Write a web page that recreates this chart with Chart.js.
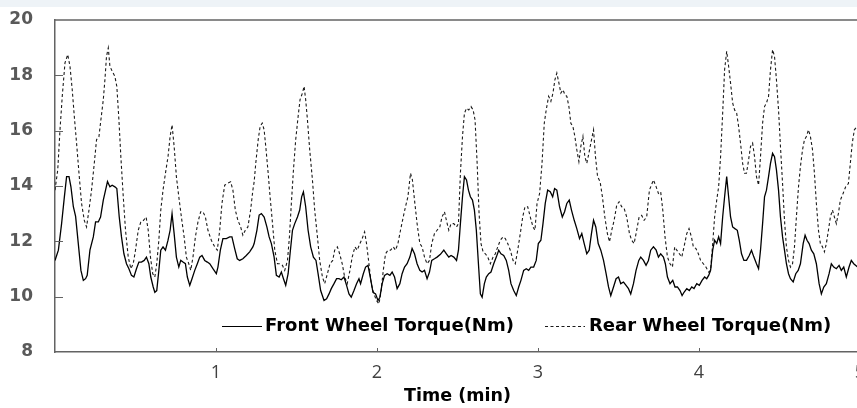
<!DOCTYPE html>
<html>
<head>
<meta charset="utf-8">
<script src="https://cdn.jsdelivr.net/npm/chart.js@4.4.1/dist/chart.umd.min.js"></script>
<style>
  html, body { margin: 0; padding: 0; background: #fff; }
  body { width: 857px; height: 408px; overflow: hidden; position: relative; }
  #band { position: absolute; left: 0; top: 0; width: 857px; height: 7px; background: #eef3f7; }
  #wrap { position: absolute; left: 0; top: 0; width: 880px; height: 408px; }
</style>
</head>
<body>
<div id="band"></div>
<div id="wrap"><canvas id="torqueChart" width="880" height="408"></canvas></div>
<script>
// values (time in min, torque in Nm)
var frontTime = [
  0, .021, .041, .058, .072, .087, .099, .114, .128, .145, .161, .176, .190, .200, .217, .238, .252, .269, .283, .300,
  .314, .326, .341, .355, .372, .384, .399, .413, .428, .444, .459, .475, .490, .506, .521, .537, .554, .568, .583, .595,
  .610, .620, .632, .645, .657, .671, .686, .702, .715, .727, .740, .754, .769, .781, .795, .810, .822, .837, .851, .868,
  .884, .899, .913, .930, .946, .961, .981, 1.002, 1.012, 1.027, 1.043, 1.064, 1.085, 1.099, 1.116, 1.132, 1.147, 1.167, 1.188, 1.209,
  1.229,
  1.237, 1.254, 1.268, 1.282, 1.299, 1.316, 1.330, 1.344, 1.361, 1.375, 1.392, 1.406, 1.419, 1.433, 1.448, 1.460, 1.475, 1.489, 1.506, 1.520,
  1.532, 1.543, 1.557, 1.572, 1.588, 1.605, 1.621, 1.634, 1.650, 1.671, 1.687, 1.702, 1.716, 1.733, 1.749, 1.764, 1.778, 1.795, 1.811, 1.826,
  1.840, 1.857, 1.873, 1.888, 1.898, 1.915, 1.929, 1.944, 1.960, 1.975, 1.991, 2.006, 2.018, 2.032, 2.047, 2.063, 2.080, 2.094, 2.109, 2.125,
  2.142, 2.156, 2.171, 2.187, 2.204, 2.218, 2.233, 2.249, 2.266, 2.280, 2.295, 2.311, 2.326, 2.340, 2.357, 2.373, 2.394, 2.415, 2.431, 2.446,
  2.460,
  2.477, 2.494, 2.506, 2.518, 2.531, 2.543, 2.556, 2.568, 2.580, 2.593, 2.605, 2.617, 2.630, 2.642, 2.653, 2.667, 2.679, 2.694, 2.708, 2.725,
  2.741, 2.756, 2.770, 2.787, 2.803, 2.818, 2.832, 2.849, 2.865, 2.880, 2.894, 2.911, 2.927, 2.942, 2.956, 2.973, 2.989, 3.002, 3.018, 3.031,
  3.045, 3.060, 3.076, 3.091, 3.103, 3.117, 3.134, 3.151, 3.165, 3.179, 3.194, 3.208, 3.225, 3.241, 3.258, 3.272, 3.287, 3.303, 3.318, 3.332,
  3.345, 3.359, 3.374, 3.390, 3.407, 3.423, 3.438, 3.452, 3.469, 3.485, 3.500, 3.514, 3.531, 3.547, 3.562, 3.576, 3.593, 3.609, 3.626, 3.638,
  3.655, 3.671, 3.686, 3.700,
  3.717, 3.734, 3.748, 3.762, 3.779, 3.791, 3.804, 3.820, 3.837, 3.851, 3.866, 3.882, 3.895, 3.907, 3.924, 3.940, 3.955, 3.969, 3.986, 4.002,
  4.019, 4.035, 4.048, 4.060, 4.072, 4.085, 4.097, 4.110, 4.122, 4.134, 4.147, 4.159, 4.172, 4.184, 4.196, 4.209, 4.223, 4.238, 4.250, 4.264,
  4.279, 4.295, 4.312, 4.326, 4.341, 4.357, 4.370, 4.382, 4.395, 4.407, 4.419, 4.432, 4.444, 4.457, 4.469, 4.481, 4.494, 4.506, 4.519, 4.531,
  4.543, 4.556, 4.568, 4.585, 4.601, 4.616, 4.630, 4.647, 4.659, 4.671, 4.684, 4.698, 4.713, 4.729, 4.746, 4.760, 4.775, 4.791, 4.808, 4.822,
  4.837, 4.853, 4.870, 4.884, 4.899, 4.915, 4.932, 4.946, 4.961, 5.0
];
var frontTorque = [
  11.31, 11.68, 12.64, 13.6, 14.34, 14.34, 13.97, 13.25, 12.9, 11.9, 10.95, 10.59, 10.65, 10.77, 11.68, 12.16, 12.7, 12.7, 12.88, 13.49,
  13.85, 14.16, 13.97, 14.03, 13.97, 13.91, 12.88, 12.16, 11.55, 11.19, 11.01, 10.77, 10.71, 11.01, 11.25, 11.25, 11.31, 11.43, 11.19, 10.71,
  10.35, 10.16, 10.22, 10.95, 11.68, 11.8, 11.68, 12.04, 12.4, 13.0, 12.28, 11.43, 11.07, 11.31, 11.25, 11.19, 10.71, 10.41, 10.65, 10.95,
  11.19, 11.43, 11.49, 11.31, 11.25, 11.19, 11.01, 10.83, 11.07, 11.68, 12.1, 12.1, 12.16, 12.16, 11.74, 11.37, 11.31, 11.37, 11.49, 11.62,
  11.8,
  11.92, 12.4, 12.95, 13.0, 12.88, 12.52, 12.16, 11.92, 11.43, 10.77, 10.71, 10.89, 10.65, 10.41, 10.83, 11.55, 12.4, 12.64, 12.88, 13.13,
  13.61, 13.79, 13.25, 12.4, 11.8, 11.43, 11.31, 10.83, 10.22, 9.86, 9.92, 10.1, 10.29, 10.47, 10.65, 10.65, 10.61, 10.71, 10.41, 10.1,
  9.98, 10.22, 10.47, 10.65, 10.47, 10.83, 11.07, 11.13, 10.65, 10.16, 10.1, 9.86, 9.98, 10.47, 10.77, 10.83, 10.77, 10.89, 10.71, 10.29,
  10.47, 10.83, 11.07, 11.19, 11.43, 11.74, 11.55, 11.19, 10.95, 10.89, 10.95, 10.65, 10.89, 11.31, 11.37, 11.43, 11.53, 11.68, 11.55, 11.43,
  11.49,
  11.43, 11.31, 11.68, 12.64, 13.61, 14.34, 14.22, 13.85, 13.61, 13.49, 13.13, 12.4, 11.19, 10.1, 9.98, 10.47, 10.71, 10.83, 10.89, 11.19,
  11.43, 11.68, 11.55, 11.49, 11.31, 10.95, 10.47, 10.22, 10.04, 10.35, 10.59, 10.95, 11.01, 10.95, 11.07, 11.07, 11.31, 11.92, 12.04, 12.64,
  13.37, 13.85, 13.79, 13.61, 13.91, 13.85, 13.25, 12.88, 13.07, 13.37, 13.49, 13.13, 12.76, 12.46, 12.1, 12.28, 11.92, 11.55, 11.68, 12.28,
  12.76, 12.52, 11.92, 11.68, 11.31, 10.83, 10.35, 10.04, 10.35, 10.65, 10.71, 10.47, 10.53, 10.41, 10.29, 10.1, 10.47, 10.95, 11.31, 11.43,
  11.31, 11.13, 11.31, 11.68,
  11.8, 11.68, 11.43, 11.55, 11.43, 11.19, 10.71, 10.47, 10.59, 10.35, 10.35, 10.22, 10.04, 10.16, 10.29, 10.22, 10.35, 10.29, 10.47, 10.41,
  10.59, 10.71, 10.65, 10.77, 10.95, 11.68, 12.04, 11.92, 12.16, 11.92, 12.88, 13.61, 14.34, 13.61, 12.88, 12.52, 12.46, 12.4, 12.04, 11.55,
  11.31, 11.31, 11.49, 11.68, 11.43, 11.19, 11.01, 11.68, 12.64, 13.61, 13.85, 14.34, 14.82, 15.18, 15.06, 14.58, 13.85, 12.88, 12.16, 11.68,
  11.19, 10.83, 10.65, 10.53, 10.83, 10.95, 11.19, 11.92, 12.22, 12.04, 11.92, 11.68, 11.55, 11.19, 10.47, 10.1, 10.35, 10.47, 10.83, 11.19,
  11.07, 11.01, 11.13, 10.95, 11.07, 10.71, 11.07, 11.31, 11.19, 11.0
];
var rearTime = [
  0, .017, .031, .045, .062, .079, .093, .107, .120, .134, .149, .165, .182, .196, .211, .227, .244, .258, .273, .285,
  .300, .310, .320, .331, .341, .355, .372, .384, .397, .409, .424, .438, .455, .471, .486, .500, .517, .533, .550, .566,
  .579, .593, .607, .620, .632, .645, .657, .671, .686, .702, .715, .727, .740, .754, .769, .785, .802, .816, .831, .843,
  .857, .872, .888, .905, .919, .934, .950, .971, .992, 1.008, 1.023, 1.037, 1.054, 1.070, 1.091, 1.105, 1.120, 1.136, 1.153, 1.167,
  1.182, 1.198, 1.215, 1.229,
  1.237, 1.247, 1.262, 1.274, 1.287, 1.299, 1.311, 1.324, 1.336, 1.351, 1.365, 1.382, 1.398, 1.413, 1.427, 1.444, 1.456, 1.468, 1.481, 1.495,
  1.510, 1.522, 1.537, 1.547, 1.557, 1.568, 1.582, 1.599, 1.613, 1.630, 1.644, 1.661, 1.675, 1.692, 1.708, 1.725, 1.737, 1.754, 1.768, 1.784,
  1.799, 1.815, 1.832, 1.846, 1.863, 1.877, 1.894, 1.908, 1.923, 1.935, 1.950, 1.964, 1.981, 1.997, 2.012, 2.026, 2.039, 2.053, 2.068, 2.084,
  2.101, 2.115, 2.130, 2.146, 2.163, 2.177, 2.192, 2.208, 2.220, 2.233, 2.249, 2.266, 2.280, 2.295, 2.311, 2.326, 2.340, 2.357, 2.373, 2.390,
  2.404, 2.419, 2.431, 2.446, 2.460,
  2.477, 2.494, 2.506, 2.518, 2.531, 2.543, 2.556, 2.570, 2.584, 2.597, 2.609, 2.622, 2.634, 2.646, 2.659, 2.673, 2.688, 2.704, 2.721, 2.735,
  2.750, 2.766, 2.783, 2.797, 2.812, 2.828, 2.845, 2.859, 2.874, 2.890, 2.905, 2.919, 2.936, 2.952, 2.969, 2.981, 2.994, 3.010, 3.025, 3.039,
  3.051, 3.066, 3.080, 3.093, 3.105, 3.117, 3.130, 3.142, 3.155, 3.167, 3.179, 3.192, 3.204, 3.217, 3.229, 3.241, 3.254, 3.266, 3.279, 3.291,
  3.303, 3.316, 3.328, 3.345, 3.357, 3.370, 3.386, 3.400, 3.415, 3.431, 3.444, 3.458, 3.473, 3.489, 3.504, 3.520, 3.535, 3.551, 3.568, 3.582,
  3.597, 3.613, 3.628, 3.644, 3.659, 3.675, 3.692,
  3.717, 3.734, 3.748, 3.762, 3.775, 3.789, 3.804, 3.820, 3.835, 3.849, 3.862, 3.878, 3.893, 3.907, 3.924, 3.938, 3.953, 3.965, 3.981, 3.996,
  4.010, 4.027, 4.043, 4.060, 4.072, 4.085, 4.097, 4.110, 4.122, 4.134, 4.147, 4.159, 4.172, 4.184, 4.196, 4.209, 4.221, 4.234, 4.246, 4.258,
  4.271, 4.283, 4.295, 4.308, 4.320, 4.333, 4.345, 4.357, 4.370, 4.382, 4.395, 4.407, 4.419, 4.432, 4.444, 4.457, 4.469, 4.481, 4.494, 4.506,
  4.519, 4.531, 4.543, 4.556, 4.568, 4.581, 4.593, 4.605, 4.618, 4.630, 4.643, 4.655, 4.667, 4.680, 4.692, 4.705, 4.717, 4.729, 4.742, 4.754,
  4.767, 4.779, 4.791, 4.804, 4.816, 4.829, 4.841, 4.853, 4.866, 4.878, 4.895, 4.911, 4.928, 4.940, 4.952, 4.965, 5.0
];
var rearTorque = [
  13.85, 14.58, 16.03, 17.24, 18.45, 18.75, 18.33, 17.48, 16.51, 15.55, 14.46, 13.37, 12.76, 12.52, 13.13, 13.85, 14.82, 15.67, 15.79, 16.39,
  17.12, 17.84, 18.69, 18.99, 18.33, 18.15, 17.96, 17.6, 16.39, 15.06, 13.61, 12.4, 11.43, 11.01, 11.19, 11.68, 12.4, 12.7, 12.76, 12.88,
  12.4, 11.43, 10.83, 10.71, 11.19, 12.04, 13.13, 13.85, 14.46, 15.06, 15.79, 16.21, 15.43, 14.34, 13.61, 12.88, 12.16, 11.43, 11.19, 10.95,
  11.43, 12.16, 12.7, 13.07, 13.07, 12.88, 12.4, 12.04, 11.8, 11.68, 12.4, 13.37, 14.03, 14.09, 14.15, 13.85, 13.13, 12.76, 12.52, 12.22,
  12.4, 12.52, 13.13, 13.85,
  14.15, 14.82, 15.67, 16.15, 16.27, 16.03, 15.31, 14.46, 13.61, 12.64, 11.68, 11.19, 11.19, 11.13, 10.95, 11.31, 12.16, 13.37, 14.58, 15.67,
  16.51, 17.12, 17.36, 17.6, 17.12, 16.39, 15.31, 14.22, 13.13, 12.16, 11.31, 10.71, 10.47, 10.83, 11.19, 11.31, 11.68, 11.8, 11.55, 11.19,
  10.71, 10.47, 10.95, 11.43, 11.8, 11.68, 11.92, 12.1, 12.34, 11.92, 11.19, 10.47, 10.1, 9.86, 9.74, 10.22, 10.95, 11.55, 11.68, 11.68,
  11.8, 11.68, 11.92, 12.4, 12.88, 13.25, 13.61, 14.46, 14.22, 13.49, 12.64, 11.92, 11.8, 11.43, 11.19, 11.31, 11.92, 12.28, 12.4, 12.52,
  12.88, 13.07, 12.76, 12.4, 12.64,
  12.64, 12.52, 12.64, 14.46, 15.79, 16.63, 16.81, 16.75, 16.87, 16.75, 16.39, 14.82, 13.01, 11.92, 11.62, 11.55, 11.43, 11.19, 11.43, 11.55,
  11.8, 12.04, 12.16, 12.1, 11.92, 11.68, 11.31, 11.19, 11.68, 12.28, 12.88, 13.25, 13.25, 12.88, 12.52, 12.4, 13.37, 13.73, 14.82, 16.27,
  16.75, 17.24, 17.06, 17.36, 17.84, 18.08, 17.72, 17.36, 17.48, 17.3, 17.24, 16.87, 16.27, 16.15, 15.79, 15.31, 14.88, 15.43, 15.79, 15.06,
  14.82, 15.18, 15.55, 16.03, 15.06, 14.34, 14.15, 13.61, 12.88, 12.28, 11.98, 12.4, 12.76, 13.31, 13.43, 13.25, 13.19, 12.88, 12.28, 12.04,
  11.92, 12.4, 12.88, 12.94, 12.76, 12.88, 13.85,
  14.22, 13.97, 13.73, 13.79, 13.13, 12.16, 11.43, 11.19, 11.07, 11.8, 11.68, 11.55, 11.43, 11.8, 12.28, 12.46, 12.16, 11.8, 11.74, 11.55,
  11.31, 11.19, 11.07, 10.89, 10.95, 11.92, 12.88, 13.49, 13.97, 15.06, 16.63, 18.2, 18.87, 18.33, 17.72, 17.0, 16.75, 16.63, 16.15, 15.55,
  14.82, 14.46, 14.46, 14.94, 15.43, 15.55, 15.06, 14.34, 14.03, 15.06, 16.27, 16.87, 17.0, 17.24, 18.2, 18.93, 18.69, 17.84, 16.75, 15.43,
  14.09, 12.76, 11.8, 11.31, 11.07, 11.19, 11.8, 12.88, 13.97, 14.7, 15.31, 15.67, 15.79, 16.03, 15.79, 15.31, 14.46, 13.37, 12.4, 11.92,
  11.8, 11.62, 11.92, 12.4, 12.88, 13.13, 12.88, 12.64, 13.01, 13.49, 13.73, 13.97, 14.09, 14.82, 15.55, 16.03, 16.3
];
var xTicks = [1, 2, 3, 4, 5];
var yTicks = [8, 10, 12, 14, 16, 18, 20];
var seriesLabels = ['Front Wheel Torque(Nm)', 'Rear Wheel Torque(Nm)'];

var frameColor = '#636363';

function toPoints(times, vals) {
  return times.map((t, i) => ({ x: t, y: vals[i] }));
}

// top frame line, inward tick marks and the legend inside the plot
var decorPlugin = {
  id: 'decor',
  afterDatasetsDraw(chart) {
    var c = chart.ctx, a = chart.chartArea;
    var xs = chart.scales.x, ys = chart.scales.y;
    c.save();
    c.strokeStyle = frameColor;
    c.lineWidth = 1.5;
    c.beginPath();
    c.moveTo(a.left, a.top);
    c.lineTo(a.right + 20, a.top);
    c.stroke();
    c.lineWidth = 1;
    c.beginPath();
    yTicks.forEach(v => {
      if (v === 8 || v === 20) return;
      var py = Math.round(ys.getPixelForValue(v)) + 0.5;
      c.moveTo(a.left, py);
      c.lineTo(a.left + 8, py);
    });
    xTicks.forEach(v => {
      var px = Math.round(xs.getPixelForValue(v)) + 0.5;
      c.moveTo(px, a.bottom);
      c.lineTo(px, a.bottom - 4);
    });
    c.stroke();

    // legend
    var ly = a.bottom - 26;
    c.font = 'bold 18px "DejaVu Sans"';
    c.fillStyle = '#000';
    c.textBaseline = 'middle';
    c.textAlign = 'left';
    var ds = chart.data.datasets;
    var x0 = a.left + 167;
    c.strokeStyle = ds[0].borderColor;
    c.lineWidth = 1.2;
    c.setLineDash([]);
    c.beginPath();
    c.moveTo(x0, ly + 0.5);
    c.lineTo(x0 + 40, ly + 0.5);
    c.stroke();
    c.fillText(ds[0].label, x0 + 43, ly);
    var x1 = a.left + 490;
    c.strokeStyle = ds[1].borderColor;
    c.lineWidth = 1;
    c.setLineDash(ds[1].borderDash);
    c.beginPath();
    c.moveTo(x1, ly + 0.5);
    c.lineTo(x1 + 40, ly + 0.5);
    c.stroke();
    c.setLineDash([]);
    c.fillText(ds[1].label, x1 + 44, ly);
    c.restore();
  }
};

var ctx = document.getElementById('torqueChart').getContext('2d');
var torqueChart = new Chart(ctx, {
  type: 'line',
  data: {
    datasets: [{
      label: seriesLabels[0],
      data: toPoints(frontTime, frontTorque),
      borderColor: '#000',
      borderWidth: 1.3,
      pointRadius: 0,
      tension: 0,
      fill: false
    }, {
      label: seriesLabels[1],
      data: toPoints(rearTime, rearTorque),
      borderColor: '#1a1a1a',
      borderWidth: 1.1,
      borderDash: [3, 2.5],
      pointRadius: 0,
      tension: 0,
      fill: false
    }]
  },
  options: {
    responsive: false,
    animation: false,
    devicePixelRatio: 1,
    layout: { padding: { top: 20, left: 0, right: 20, bottom: 0 } },
    plugins: {
      legend: { display: false },
      tooltip: { enabled: false }
    },
    scales: {
      x: {
        type: 'linear',
        min: 0,
        max: 5,
        afterBuildTicks: scale => { scale.ticks = xTicks.map(v => ({ value: v })); },
        afterFit: scale => { scale.height = 56; scale.paddingLeft = 0; scale.paddingRight = 0; },
        grid: { display: false, drawTicks: false },
        border: { display: true, color: frameColor, width: 1.5 },
        ticks: {
          padding: 10,
          color: '#404040',
          font: { family: '"Open Sans"', size: 18 }
        },
        title: {
          display: true,
          text: 'Time (min)',
          color: '#000',
          font: { family: '"DejaVu Sans"', size: 17.5, weight: 'bold' },
          padding: { top: 0, bottom: 1 }
        }
      },
      y: {
        min: 8,
        max: 20,
        afterBuildTicks: scale => { scale.ticks = yTicks.map(v => ({ value: v })); },
        afterFit: scale => { scale.width = 55; scale.paddingTop = 0; scale.paddingBottom = 0; },
        grid: { display: false, drawTicks: false },
        border: { display: true, color: frameColor, width: 1.5 },
        ticks: {
          padding: 22,
          color: '#595959',
          font: { family: '"DejaVu Sans"', size: 17, weight: 'bold' }
        }
      }
    }
  },
  plugins: [decorPlugin]
});
</script>
</body>
</html>
